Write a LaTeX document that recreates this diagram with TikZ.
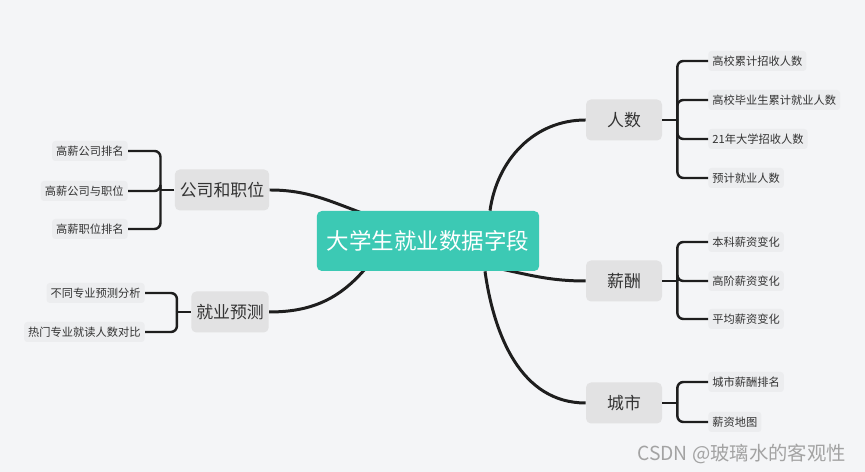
\documentclass[tikz,border=0pt]{standalone}
\usepackage{fontspec}
\setmainfont{Noto Sans CJK SC}
\usetikzlibrary{calc,backgrounds}
\definecolor{bgcol}{HTML}{F4F5F7}
\definecolor{topicgreen}{HTML}{3CC9B4}
\definecolor{branchgrey}{HTML}{E2E2E3}
\definecolor{leafgrey}{HTML}{ECEDEF}
\definecolor{linecol}{HTML}{1E1E1E}
\definecolor{textcol}{HTML}{333333}
\definecolor{markgrey}{HTML}{A3A3A3}
\tikzset{
  topic/.style={fill=topicgreen,rounded corners=0.1cm,text=white,font=\fontsize{12.8}{15}\selectfont,minimum height=1.2cm,inner xsep=0.2cm},
  branch/.style={fill=branchgrey,rounded corners=0.1cm,text=textcol,font=\fontsize{9.6}{11}\selectfont,minimum width=1.52cm,minimum height=0.82cm,inner xsep=0.1cm},
  leaf/.style={fill=leafgrey,rounded corners=0.06cm,text=textcol,font=\fontsize{6.4}{8}\selectfont,minimum height=0.4cm,inner sep=0.08cm},
  link/.style={draw=linecol,line width=1.7pt},
  bracket/.style={draw=linecol,line width=1.4pt,rounded corners=0.12cm},
}

\begin{document}
\begin{tikzpicture}[x=0.02cm,y=0.02cm]
\useasboundingbox (0,0) rectangle (865,472);
%\draw[help lines,step=50] (0,0) grid (865,472);

\node[topic] (main) at (428,231) {大学生就业数据字段};

\node[branch] (rs) at (624,352) {人数};
\node[branch] (xc) at (624,191) {薪酬};
\node[branch] (cs) at (624,69) {城市};
\node[branch] (gs) at (222,282) {公司和职位};
\node[branch] (jy) at (230,160) {就业预测};

% right side leaves
\node[leaf,anchor=west] (r1) at (708,411) {高校累计招收人数};
\node[leaf,anchor=west] (r2) at (708,372) {高校毕业生累计就业人数};
\node[leaf,anchor=west] (r3) at (708,333) {21年大学招收人数};
\node[leaf,anchor=west] (r4) at (708,294) {预计就业人数};
\node[leaf,anchor=west] (x1) at (708,230) {本科薪资变化};
\node[leaf,anchor=west] (x2) at (708,191) {高阶薪资变化};
\node[leaf,anchor=west] (x3) at (708,153) {平均薪资变化};
\node[leaf,anchor=west] (c1) at (708,90) {城市薪酬排名};
\node[leaf,anchor=west] (c2) at (708,50) {薪资地图};

% left side leaves
\node[leaf,anchor=east] (g1) at (128,321) {高薪公司排名};
\node[leaf,anchor=east] (g2) at (128,281) {高薪公司与职位};
\node[leaf,anchor=east] (g3) at (128,243) {高薪职位排名};
\node[leaf,anchor=east] (j1) at (145,179) {不同专业预测分析};
\node[leaf,anchor=east] (j2) at (145,140) {热门专业就读人数对比};

\node[text=markgrey,font=\fontsize{11}{13}\selectfont,anchor=east] (mark) at (852,18) {CSDN @玻璃水的客观性};

\begin{scope}[on background layer]
\fill[bgcol] (0,0) rectangle (865,472);
\draw[link] ($(main.north)+(62,0)$) to[out=82,in=180] (rs.west);
\draw[link] ($(main.south)+(70,3)$) to[out=-12,in=180] (xc.west);
\draw[link] ($(main.south)+(57,0)$) to[out=-82,in=180] (cs.west);
\draw[link] (gs.east) to[out=0,in=160] ($(main.north west)+(50,-4)$);
\draw[link] (jy.east) to[out=0,in=230] ($(main.south west)+(50,4)$);
\end{scope}

% brackets
\draw[bracket] (rs.east) -- ++(15,0) coordinate (rj);
\draw[bracket] (rj) |- (r1.west);
\draw[bracket] (rj) |- (r2.west);
\draw[bracket] (rj) |- (r3.west);
\draw[bracket] (rj) |- (r4.west);

\draw[bracket] (xc.east) -- ++(15,0) coordinate (xj);
\draw[bracket] (xj) |- (x1.west);
\draw[bracket] (xj) |- (x2.west);
\draw[bracket] (xj) |- (x3.west);

\draw[bracket] (cs.east) -- ++(15,0) coordinate (cj);
\draw[bracket] (cj) |- (c1.west);
\draw[bracket] (cj) |- (c2.west);

\draw[bracket] (gs.west) -- ++(-14,0) coordinate (gj);
\draw[bracket] (gj) |- (g1.east);
\draw[bracket] (gj) |- (g2.east);
\draw[bracket] (gj) |- (g3.east);

\draw[bracket] (jy.west) -- ++(-14,0) coordinate (jj);
\draw[bracket] (jj) |- (j1.east);
\draw[bracket] (jj) |- (j2.east);
\end{tikzpicture}
\end{document}
